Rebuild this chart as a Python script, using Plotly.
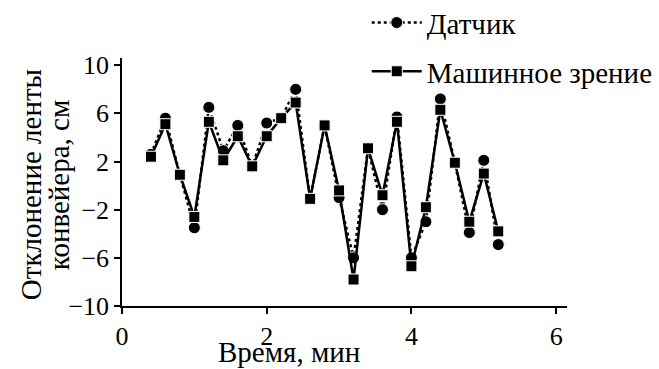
import plotly.graph_objects as go

time_min = [0.4, 0.6, 0.8, 1.0, 1.2, 1.4, 1.6, 1.8, 2.0, 2.2, 2.4, 2.6, 2.8,
            3.0, 3.2, 3.4, 3.6, 3.8, 4.0, 4.2, 4.4, 4.6, 4.8, 5.0, 5.2]
sensor = [2.6, 5.6, 0.9, -3.5, 6.5, 2.9, 5.0, 1.6, 5.2, 5.6, 8.0, -1.1, 5.0,
          -1.0, -6.0, 3.1, -2.0, 5.7, -6.0, -3.0, 7.2, 1.9, -3.9, 2.1, -4.9]
vision = [2.4, 5.1, 0.9, -2.6, 5.3, 2.1, 4.1, 1.6, 4.1, 5.6, 6.9, -1.1, 5.0,
          -0.4, -7.8, 3.1, -0.8, 5.3, -6.7, -1.8, 6.3, 1.9, -3.0, 1.0, -3.8]
y_ticks = [10, 6, 2, -2, -6, -10]
y_tick_labels = ["10", "6", "2", "−2", "−6", "−10"]
x_ticks = [0, 2, 4, 6]
x_title = "Время, мин"
y_title_lines = ["Отклонение ленты", "конвейера, см"]

font = "Liberation Serif, Times New Roman, serif"

fig = go.Figure()
fig.add_trace(go.Scatter(
    x=time_min, y=sensor, name="Датчик", mode="lines+markers",
    legendgroup="a",
    line=dict(color="black", width=2.5, dash="dot"),
    marker=dict(symbol="circle", size=12, color="black",
                line=dict(color="white", width=1)),
))
fig.add_trace(go.Scatter(
    x=time_min, y=vision, name="Машинное зрение", mode="lines+markers",
    legendgroup="b",
    line=dict(color="black", width=2.5),
    marker=dict(symbol="square", size=11, color="black",
                line=dict(color="white", width=1)),
))

fig.update_layout(
    width=659, height=369,
    margin=dict(l=122, r=92, t=58, b=63, autoexpand=False),
    paper_bgcolor="white", plot_bgcolor="white",
    font=dict(family=font, size=26, color="black"),
    showlegend=True,
    legend=dict(x=0.55, y=1.245, xanchor="left", yanchor="top",
                font=dict(family=font, size=29), traceorder="grouped",
                tracegroupgap=8, itemwidth=50,
                bgcolor="rgba(0,0,0,0)"),
    xaxis=dict(range=[0, 6.15], tickvals=x_ticks, showline=True,
               linecolor="black", linewidth=1.5, ticks="outside",
               ticklen=6, tickwidth=1.5, tickcolor="black",
               tickfont=dict(family=font, size=26),
               showgrid=False, zeroline=False, automargin=False),
    yaxis=dict(range=[-10, 10.6], tickvals=y_ticks, ticktext=y_tick_labels,
               showline=True,
               linecolor="black", linewidth=1.5, ticks="outside",
               ticklen=6, tickwidth=1.5, tickcolor="black",
               tickfont=dict(family=font, size=26),
               showgrid=False, zeroline=False, automargin=False),
    annotations=[
        dict(text=x_title, xref="paper", yref="paper", x=0.375, y=-0.186,
             xanchor="center", yanchor="middle", showarrow=False,
             font=dict(family=font, size=29)),
        dict(text=y_title_lines[0], xref="paper", yref="paper", x=-0.204,
             y=0.488, xanchor="center", yanchor="middle", showarrow=False,
             textangle=-90, font=dict(family=font, size=29)),
        dict(text=y_title_lines[1], xref="paper", yref="paper", x=-0.141,
             y=0.488, xanchor="center", yanchor="middle", showarrow=False,
             textangle=-90, font=dict(family=font, size=29)),
    ],
)

fig.write_html("out.html",
               config={"displayModeBar": False},
               post_script="document.body.style.margin='0';")
